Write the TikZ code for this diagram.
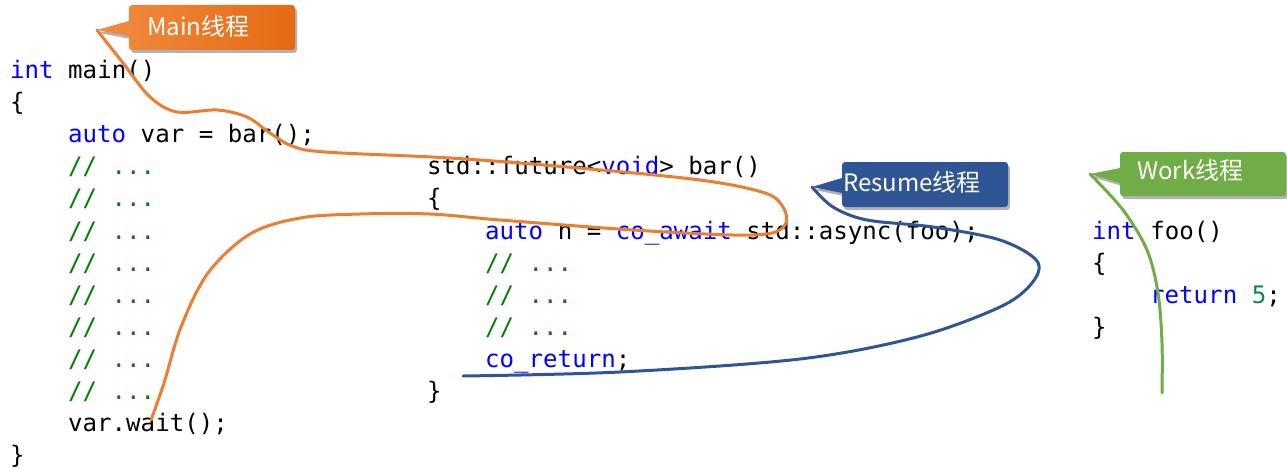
\documentclass[tikz,border=0pt]{standalone}
\usepackage{fontspec}
\usetikzlibrary{shadows}
\newfontfamily\codefont{DejaVu Sans Mono}
\newfontfamily\labelfont{Noto Sans CJK SC}
\definecolor{kwblue}{RGB}{0,0,255}
\definecolor{cmtgreen}{RGB}{0,128,0}
\definecolor{numteal}{RGB}{9,134,88}
\definecolor{mainorange}{RGB}{237,125,49}
\definecolor{mainlight}{RGB}{242,140,66}
\definecolor{maindark}{RGB}{228,106,18}
\definecolor{resumeblue}{RGB}{47,85,151}
\definecolor{workgreen}{RGB}{112,173,71}
\newcommand{\kw}[1]{\textcolor{kwblue}{#1}}
\newcommand{\cmt}[1]{\textcolor{cmtgreen}{#1}}
% speech bubble: style, tip x, tip y, left, top, right, bottom
\newcommand{\bubble}[7]{%
  \path[#1] (#2,#3) -- ({#4},{#5+31}) -- ({#4},{#7-7})
    .. controls ({#4},{#7}) .. ({#4+7},{#7}) -- ({#6-7},{#7})
    .. controls ({#6},{#7}) .. ({#6},{#7-7}) -- ({#6},{#5+7})
    .. controls ({#6},{#5}) .. ({#6-7},{#5}) -- ({#4+7},{#5})
    .. controls ({#4},{#5}) .. ({#4},{#5+7}) -- ({#4},{#5+16}) -- cycle;}
\begin{document}
\begin{tikzpicture}[x=1pt,y=-1pt,
  code/.style={font={\codefont\fontsize{24.1pt}{30pt}\selectfont}, anchor=base west, inner sep=0pt},
  lbl/.style={font={\labelfont\fontsize{24pt}{28pt}\selectfont}, text=white, anchor=base west, inner sep=0pt},
  shade/.style={drop shadow={shadow xshift=2pt, shadow yshift=-3pt, opacity=0.3, fill=black}},
  thread/.style={line width=3pt, line cap=round, line join=round},
]
\useasboundingbox (0,0) rectangle (1287,468);

% main()
\node[code] (m0) at (10,78.5) {\kw{int} main()};
\node[code] (m1) at (10,{78.5+32.1*1}) {\{};
\node[code] (m2) at (68,{78.5+32.1*2}) {\kw{auto} var = bar();};
\foreach \i in {3,...,10}
  \node[code] (mc\i) at (68,{78.5+32.1*\i}) {\cmt{// ...}};
\node[code] (m11) at (68,{78.5+32.1*11}) {var.wait();};
\node[code] (m12) at (10,{78.5+32.1*12}) {\}};

% bar()
\node[code] (b3) at (427,{78.5+32.1*3}) {std::future<\kw{void}> bar()};
\node[code] (b4) at (427,{78.5+32.1*4}) {\{};
\node[code] (b5) at (485,{78.5+32.1*5}) {\kw{auto} n = \kw{co\_await} std::async(foo);};
\foreach \i in {6,7,8}
  \node[code] (bc\i) at (485,{78.5+32.1*\i}) {\cmt{// ...}};
\node[code] (b9) at (485,{78.5+32.1*9}) {\kw{co\_return};};
\node[code] (b10) at (427,{78.5+32.1*10}) {\}};

% foo()
\node[code] (f5) at (1092,{78.5+32.1*5}) {\kw{int} foo()};
\node[code] (f6) at (1092,{78.5+32.1*6}) {\{};
\node[code] (f7) at (1150,{78.5+32.1*7}) {\kw{return} \textcolor{numteal}{5};};
\node[code] (f8) at (1092,{78.5+32.1*8}) {\}};

% thread callouts
\coordinate (maintip) at (97,30);
\coordinate (resumetip) at (812,187);
\coordinate (worktip) at (1090,174);
\bubble{shade, left color=mainlight, right color=maindark}{97}{30}{129}{5}{295}{50}
\bubble{shade, fill=resumeblue}{812}{187}{842}{162}{1008}{207}
\bubble{shade, fill=workgreen}{1090}{174}{1120}{152}{1286}{196}
\node[lbl] (mainlbl) at (147,36) {Main线程};
\node[lbl] (resumelbl) at (843,191) {Resume线程};
\node[lbl] (worklbl) at (1137,179) {Work线程};

% thread paths
\draw[thread, mainorange] plot[smooth, tension=0.55] coordinates {
  (maintip) (123,63) (150,97) (177,112) (217,110) (247,117) (270,133)
  (292,146) (325,152) (450,158) (567,167) (700,180) (765,193) (783,207)
  (786,223) (772,233) (733,235) (633,230) (500,220) (430,214) (360,214)
  (300,218) (250,234) (208,273) (181,327) (164,383) (151,420)};
\draw[thread, resumeblue] plot[smooth, tension=0.55] coordinates {
  (resumetip) (833,207) (867,220) (933,227) (1000,240) (1037,261)
  (1032,283) (1000,307) (917,337) (800,359) (620,372) (463,376)};
\draw[thread, workgreen] plot[smooth, tension=0.55] coordinates {
  (worktip) (1123,210) (1147,250) (1158,293) (1162,343) (1162,393)};
\end{tikzpicture}
\end{document}
